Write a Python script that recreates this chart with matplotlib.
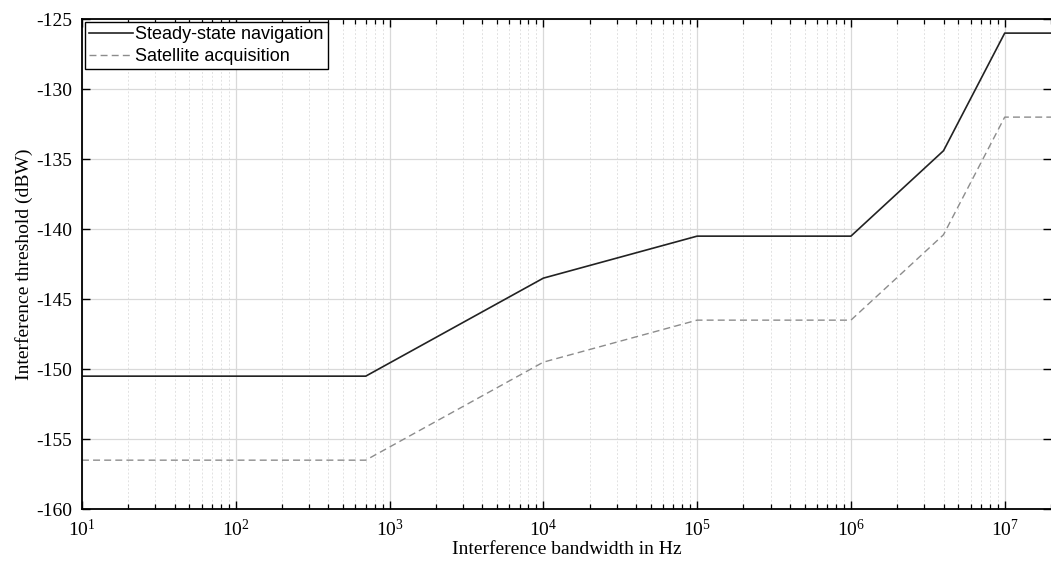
import matplotlib
matplotlib.use("Agg")
import matplotlib.pyplot as plt
from matplotlib.ticker import LogLocator, NullFormatter, MultipleLocator, FixedLocator

# bandwidth breakpoints (Hz) and thresholds (dBW)
bandwidth = [10, 700, 1e4, 1e5, 1e6, 4e6, 1e7, 2e7]
steady_state = [-150.5, -150.5, -143.5, -140.5, -140.5, -134.4, -126.0, -126.0]
acquisition = [-156.5, -156.5, -149.5, -146.5, -146.5, -140.4, -132.0, -132.0]
decade_ticks = [1e1, 1e2, 1e3, 1e4, 1e5, 1e6, 1e7]

plt.rcParams["font.family"] = "Liberation Serif"
plt.rcParams["mathtext.fontset"] = "custom"
plt.rcParams["mathtext.rm"] = "Liberation Serif"
plt.rcParams["mathtext.it"] = "Liberation Serif:italic"
plt.rcParams["axes.unicode_minus"] = False

fig = plt.figure(figsize=(10.51, 5.62), dpi=100)
ax = fig.add_axes([0.078, 0.094, 0.922, 0.872])

ax.plot(bandwidth, steady_state, color="#222222", lw=1.2, label="Steady-state navigation")
ax.plot(bandwidth, acquisition, color="#8c8c8c", lw=1.0, ls=(0, (5, 3)), label="Satellite acquisition")

ax.set_xscale("log")
ax.set_xlim(10, 2e7)
ax.set_ylim(-160, -125)
ax.yaxis.set_major_locator(MultipleLocator(5))
ax.xaxis.set_major_locator(FixedLocator(decade_ticks))
ax.xaxis.set_minor_locator(LogLocator(base=10, subs=range(2, 10), numticks=100))
ax.xaxis.set_minor_formatter(NullFormatter())

ax.grid(True, which="major", color="#d9d9d9", lw=0.9, ls="-")
ax.grid(True, which="minor", axis="x", color="#e2e2e2", lw=0.7, ls=(0, (2, 2)))
ax.set_axisbelow(True)

ax.tick_params(which="both", direction="in", top=True, right=True, labelsize=14, color="black")
ax.tick_params(which="major", length=6, width=1.0, pad=7)
ax.tick_params(which="minor", length=3.5, width=0.9)

for side in ["left", "bottom", "top"]:
    ax.spines[side].set_linewidth(1.3)
    ax.spines[side].set_color("black")
ax.spines["right"].set_visible(False)

ax.set_xlabel("Interference bandwidth in Hz", fontsize=14, labelpad=1)
ax.set_ylabel("Interference threshold (dBW)", fontsize=14, labelpad=2)

leg = ax.legend(loc="upper left", prop={"family": "Liberation Sans", "size": 13},
                frameon=True, fancybox=False, borderaxespad=0.15, handlelength=2.4,
                handletextpad=0.15, borderpad=0.25, labelspacing=0.25)
leg.get_frame().set_edgecolor("black")
leg.get_frame().set_linewidth(1.0)
leg.get_frame().set_alpha(1)

fig.savefig("out.png", dpi=100)
